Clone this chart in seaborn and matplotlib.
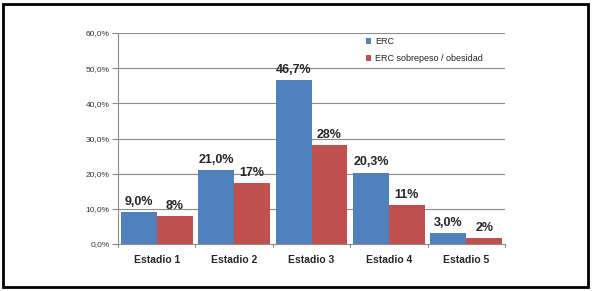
import matplotlib
matplotlib.use("Agg")
import matplotlib.pyplot as plt
import seaborn as sns
import pandas as pd
from matplotlib.patches import Rectangle

categories = ["Estadio 1", "Estadio 2", "Estadio 3", "Estadio 4", "Estadio 5"]
erc = [9.0, 21.0, 46.7, 20.3, 3.0]
erc_obes = [7.9, 17.3, 28.1, 11.0, 1.8]
erc_labels = ["9,0%", "21,0%", "46,7%", "20,3%", "3,0%"]
obes_labels = ["8%", "17%", "28%", "11%", "2%"]
series = ["ERC", "ERC sobrepeso / obesidad"]
yticks = [0, 10, 20, 30, 40, 50, 60]
ytick_labels = ["0,0%", "10,0%", "20,0%", "30,0%", "40,0%", "50,0%", "60,0%"]

df = pd.DataFrame({
    "cat": categories * 2,
    "val": erc + erc_obes,
    "serie": [series[0]] * 5 + [series[1]] * 5,
})

sns.set_style("white")
plt.rcParams["font.family"] = ["Liberation Sans", "DejaVu Sans"]

fig = plt.figure(figsize=(5.94, 2.91), dpi=100)
ax = fig.add_axes([118/594, 1-244/291, (505-118)/594, (244-33)/291])

sns.barplot(data=df, x="cat", y="val", hue="serie", ax=ax,
            palette=["#4F81BD", "#C0504D"], width=0.93, gap=0,
            saturation=1, edgecolor="none", legend=True)

ax.set_ylim(0, 60)
ax.set_xlim(-0.5, 4.5)
ax.set_yticks(yticks)
ax.set_yticklabels(ytick_labels, fontsize=6, color="#333333")
ax.yaxis.grid(True, color="#8c8c8c", linewidth=0.8)
ax.set_axisbelow(True)
ax.set_xlabel("")
ax.set_ylabel("")
for s in ["top", "right"]:
    ax.spines[s].set_visible(False)
ax.spines["left"].set_color("#8c8c8c")
ax.spines["bottom"].set_color("#8c8c8c")
ax.tick_params(axis="y", length=4, color="#8c8c8c", left=True, pad=2)
ax.set_xticks(range(5))
ax.set_xticklabels(categories, fontsize=7.5, fontweight="bold")
ax.tick_params(axis="x", length=0, pad=8)
for k in range(6):
    ax.plot([k - 0.5, k - 0.5], [0, -0.9], color="#8c8c8c", lw=0.8, clip_on=False)

for cont, labs in zip(ax.containers, [erc_labels, obes_labels]):
    ax.bar_label(cont, labels=labs, fontsize=9, fontweight="bold", padding=3)

leg = ax.legend(loc="upper left", bbox_to_anchor=(0.62, 1.02), frameon=False,
                fontsize=6.5, handlelength=0.6, handleheight=0.6,
                handletextpad=0.4, labelspacing=0.9)

fig.patches.append(Rectangle((3/594, 4/291), 585/594, 283/291, transform=fig.transFigure,
                             fill=False, edgecolor="black", linewidth=2))

fig.savefig("out.png", dpi=100)
